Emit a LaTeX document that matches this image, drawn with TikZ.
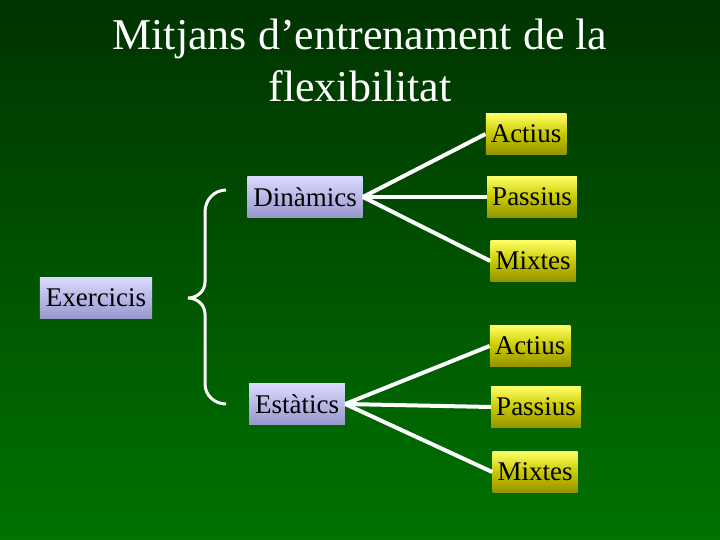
\documentclass[tikz,border=0pt]{standalone}
\usepackage{fontspec}
\setmainfont{Liberation Serif}
\usetikzlibrary{positioning}
\tikzset{
  branch/.style={rectangle, minimum height=41pt, inner xsep=5pt, text=black, top color=yellow!60!white, bottom color=olive!85!yellow, font=\fontsize{27}{30}\selectfont},
  group/.style={rectangle, minimum height=41pt, inner xsep=6pt, text=black, top color=blue!15!white, bottom color=blue!35!gray!60, font=\fontsize{27}{30}\selectfont},
  link/.style={draw=white, line width=4pt}
}
\begin{document}
\begin{tikzpicture}[x=1pt, y=-1pt]
    \shade[top color=green!20!black, bottom color=green!45!black] (0,0) rectangle (720,540);
    \useasboundingbox (0,0) rectangle (720,540);
    \node[text=white, align=center, font=\fontsize{44}{52}\selectfont] (title) at (360,60) {Mitjans d’entrenament de la\\flexibilitat};

    \node[group] (exercicis) at (96,298) {Exercicis};
    \node[group] (dinamics) at (305,197) {Dinàmics};
    \node[group] (estatics) at (297,404) {Estàtics};

    \node[branch] (actius1) at (526,134) {Actius};
    \node[branch] (passius1) at (532,197) {Passius};
    \node[branch] (mixtes1) at (533,261) {Mixtes};
    \node[branch] (actius2) at (530,346) {Actius};
    \node[branch] (passius2) at (536,407) {Passius};
    \node[branch] (mixtes2) at (535,472) {Mixtes};

    % brace
    \coordinate (top) at (226,190);
    \coordinate (bot) at (226,404);
    \coordinate (tip) at (188,298);
    \draw[link, line width=3pt] (top) to[out=180, in=90] (205,212) -- (205,282)
        to[out=-90, in=0] (tip) to[out=0, in=90] (205,314) -- (205,384)
        to[out=-90, in=180] (bot);

    \foreach \s/\t in {dinamics/actius1, dinamics/passius1, dinamics/mixtes1,
                       estatics/actius2, estatics/passius2, estatics/mixtes2}
        \draw[link] (\s.east) -- (\t.west);
\end{tikzpicture}
\end{document}
